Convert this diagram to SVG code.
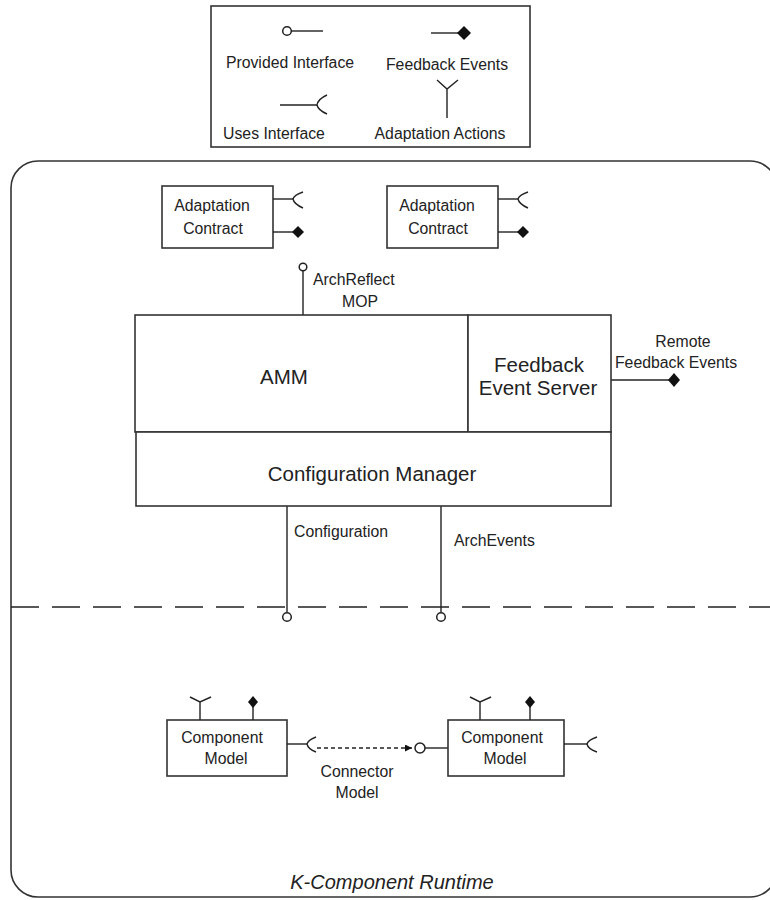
<svg xmlns="http://www.w3.org/2000/svg" width="770" height="900" viewBox="0 0 770 900">
  <style>
    .ln { fill: none; stroke: #222; stroke-width: 1.4; }
    .box { fill: #fff; stroke: #333; stroke-width: 1.6; }
    .dia { fill: #111; stroke: none; }
    .ring { fill: #fff; stroke: #222; stroke-width: 1.5; }
    text { font-family: "Liberation Sans", Arial, sans-serif; fill: #222; }
    .t16 { font-size: 15.8px; }
    .t20 { font-size: 20.5px; }
    .mid { text-anchor: middle; }
  </style>
  <defs>
    <marker id="arrow" viewBox="0 0 10 10" refX="10" refY="5" markerWidth="7" markerHeight="7" markerUnits="userSpaceOnUse" orient="auto">
      <path d="M0,0 L10,5 L0,10 Z" fill="#111"/>
    </marker>
  </defs>

  <rect width="770" height="900" fill="#fff"/>

  <!-- Legend -->
  <g id="legend">
    <rect x="211" y="6" width="319" height="141" fill="#fff" stroke="#333" stroke-width="1.6"/>
    <circle class="ring" cx="287" cy="31" r="4.3"/>
    <line class="ln" x1="291" y1="31" x2="323" y2="31"/>
    <text class="t16 mid" x="290" y="68">Provided Interface</text>
    <line class="ln" x1="431" y1="33" x2="458" y2="33"/>
    <path class="dia" d="M464,26 L471,33 L464,40 L457,33 Z"/>
    <text class="t16 mid" x="447" y="70">Feedback Events</text>
    <line class="ln" x1="280" y1="105" x2="317" y2="105"/>
    <path class="ln" d="M327,95 Q318,99 317,105 Q318,110 327,114"/>
    <text class="t16 mid" x="274" y="139">Uses Interface</text>
    <path class="ln" d="M447,118 L447,89 M437,80 L447,89 L458,80"/>
    <text class="t16 mid" x="440" y="139">Adaptation Actions</text>
  </g>

  <!-- Runtime boundary and the split line -->
  <g id="runtime">
    <rect x="11" y="161" width="766" height="736" rx="27" ry="27" fill="none" stroke="#333" stroke-width="1.6"/>
    <line x1="11" y1="607" x2="770" y2="607" stroke="#222" stroke-width="1.5" stroke-dasharray="28 13"/>
    <text x="392" y="889" font-size="20" font-style="italic" class="mid">K-Component Runtime</text>
  </g>

  <!-- Connectors -->
  <g id="connectors">
    <!-- ArchReflect MOP -->
    <line class="ln" x1="303" y1="271" x2="303" y2="315"/>
    <circle class="ring" cx="303" cy="267" r="3.8"/>
    <!-- Remote feedback events -->
    <line class="ln" x1="611" y1="380" x2="669" y2="380"/>
    <path class="dia" d="M674,373 L680,380 L674,387 L668,380 Z"/>
    <!-- Configuration / ArchEvents -->
    <line class="ln" x1="287" y1="506" x2="287" y2="612"/>
    <circle class="ring" cx="287" cy="617" r="4.3"/>
    <line class="ln" x1="441" y1="506" x2="441" y2="612"/>
    <circle class="ring" cx="441" cy="617" r="4.3"/>
    <!-- Connector model -->
    <line x1="317" y1="748" x2="412" y2="748" stroke="#222" stroke-width="1.4" stroke-dasharray="4 3" marker-end="url(#arrow)"/>
    <circle class="ring" cx="420" cy="748" r="5"/>
    <line class="ln" x1="425" y1="748" x2="448" y2="748"/>
  </g>

  <!-- Adaptation contracts -->
  <g id="contract1">
    <rect class="box" x="162" y="186" width="111" height="62"/>
    <text class="t16 mid" x="212" y="211">Adaptation</text>
    <text class="t16 mid" x="213" y="234">Contract</text>
    <line class="ln" x1="273" y1="199" x2="293" y2="199"/>
    <path class="ln" d="M303,192 Q294,195 293,199 Q294,204 303,208"/>
    <line class="ln" x1="273" y1="232" x2="293" y2="232"/>
    <path class="dia" d="M298,226 L304,232 L298,238 L292,232 Z"/>
  </g>
  <g id="contract2">
    <rect class="box" x="387" y="186" width="111" height="62"/>
    <text class="t16 mid" x="437" y="211">Adaptation</text>
    <text class="t16 mid" x="438" y="234">Contract</text>
    <line class="ln" x1="498" y1="199" x2="518" y2="199"/>
    <path class="ln" d="M528,192 Q519,195 518,199 Q519,204 528,208"/>
    <line class="ln" x1="498" y1="232" x2="518" y2="232"/>
    <path class="dia" d="M523,226 L529,232 L523,238 L517,232 Z"/>
  </g>

  <!-- AMM -->
  <g id="amm">
    <rect class="box" x="135" y="315" width="333" height="117"/>
    <text class="t20 mid" x="284" y="384">AMM</text>
  </g>
  <g id="feedback-server">
    <rect class="box" x="468" y="315" width="143" height="117"/>
    <text class="t20 mid" x="539" y="372">Feedback</text>
    <text class="t20 mid" x="538" y="395">Event Server</text>
  </g>
  <g id="config-manager">
    <rect class="box" x="136" y="432" width="475" height="74"/>
    <text class="t20 mid" x="372" y="481">Configuration Manager</text>
  </g>

  <!-- Interface labels -->
  <g id="labels">
    <text class="t16" x="313" y="285">ArchReflect</text>
    <text class="t16 mid" x="360" y="307">MOP</text>
    <text class="t16 mid" x="683" y="347">Remote</text>
    <text class="t16 mid" x="676" y="368">Feedback Events</text>
    <text class="t16" x="294" y="537">Configuration</text>
    <text class="t16" x="454" y="546">ArchEvents</text>
    <text class="t16 mid" x="357" y="777">Connector</text>
    <text class="t16 mid" x="357" y="798">Model</text>
  </g>

  <!-- Component models -->
  <g id="component1">
    <rect class="box" x="167" y="720" width="120" height="56"/>
    <text class="t16 mid" x="222" y="743">Component</text>
    <text class="t16 mid" x="226" y="764">Model</text>
    <path class="ln" d="M200,720 L200,702 M190,697 L200,702 L211,697"/>
    <line class="ln" x1="253" y1="707" x2="253" y2="720"/>
    <path class="dia" d="M253,696 L258,702 L253,708 L248,702 Z"/>
    <line class="ln" x1="287" y1="744" x2="307" y2="744"/>
    <path class="ln" d="M316,737 Q308,740 307,744 Q308,749 316,752"/>
  </g>
  <g id="component2">
    <rect class="box" x="448" y="720" width="116" height="56"/>
    <text class="t16 mid" x="502" y="743">Component</text>
    <text class="t16 mid" x="505" y="764">Model</text>
    <path class="ln" d="M480,720 L480,702 M470,697 L480,702 L491,697"/>
    <line class="ln" x1="530" y1="707" x2="530" y2="720"/>
    <path class="dia" d="M530,696 L535,702 L530,708 L525,702 Z"/>
    <line class="ln" x1="564" y1="744" x2="587" y2="744"/>
    <path class="ln" d="M597,737 Q588,740 587,744 Q588,749 597,752"/>
  </g>
</svg>
